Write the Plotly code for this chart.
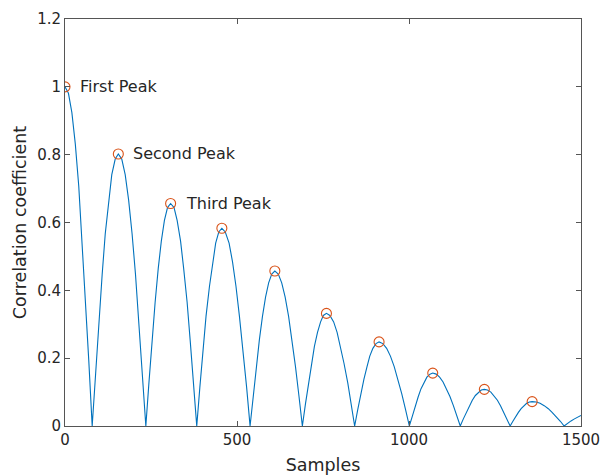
import plotly.graph_objects as go

# Autocorrelation magnitude versus lag (samples)
lag = [0, 10, 20, 30, 40, 49, 59, 69, 79,
       89, 98, 108, 117, 127, 136, 146, 155, 165, 175, 185, 195, 205, 215, 225, 235,
       244, 253, 262, 271, 280, 289, 298, 307, 317, 326, 336, 345, 355, 364, 374, 383,
       392, 401, 410, 420, 429, 438, 447, 456, 466, 477, 487, 497, 507, 518, 528, 538,
       547, 556, 565, 574, 583, 592, 601, 610, 620, 630, 640, 650, 660, 670, 680, 690,
       699, 708, 716, 725, 734, 743, 751, 760, 770, 781, 791, 801, 811, 822, 832, 842,
       851, 860, 869, 878, 886, 895, 904, 913, 924, 935, 946, 957, 968, 979, 990, 1001,
       1010, 1018, 1027, 1035, 1044, 1052, 1061, 1069, 1079, 1089, 1099, 1109, 1119, 1129, 1139, 1149,
       1158, 1167, 1175, 1184, 1193, 1202, 1210, 1219, 1228, 1238, 1247, 1257, 1266, 1275, 1285, 1294,
       1302, 1310, 1318, 1326, 1334, 1342, 1350, 1358, 1370, 1381, 1393, 1405, 1416, 1428, 1440, 1451,
       1461, 1471, 1481, 1491, 1500]

corr = [1.0, .981, .924, .831, .707, .556, .383, .195, 0,
        .156, .307, .446, .567, .666, .741, .787, .802, .787, .741, .666, .567, .446, .307, .156, 0,
        .128, .251, .365, .464, .545, .606, .644, .656, .644, .606, .545, .464, .365, .251, .128, 0,
        .114, .223, .324, .412, .484, .539, .572, .583, .572, .539, .484, .412, .324, .223, .114, 0,
        .089, .175, .254, .323, .380, .422, .448, .457, .448, .422, .380, .323, .254, .175, .089, 0,
        .065, .127, .185, .235, .276, .307, .326, .332, .326, .307, .276, .235, .185, .127, .065, 0,
        .048, .095, .138, .175, .206, .229, .243, .248, .243, .229, .206, .175, .138, .095, .048, 0,
        .030, .060, .087, .110, .130, .144, .153, .156, .153, .144, .130, .110, .087, .060, .030, 0,
        .021, .041, .060, .076, .090, .100, .106, .108, .106, .100, .090, .076, .060, .041, .021, 0,
        .014, .028, .040, .051, .060, .067, .071, .072, .071, .067, .060, .051, .040, .028, .014, 0,
        .008, .015, .021, .027, .031]

# Detected peaks
peak_lag = [0, 155, 307, 456, 610, 760, 913, 1069, 1219, 1358]
peak_val = [1.0, 0.802, 0.656, 0.583, 0.457, 0.332, 0.248, 0.156, 0.108, 0.072]
peak_names = ["First Peak", "Second Peak", "Third Peak"]

x_ticks = [0, 500, 1000, 1500]
y_ticks = [0, 0.2, 0.4, 0.6, 0.8, 1.0, 1.2]
y_tick_text = ["0", "0.2", "0.4", "0.6", "0.8", "1", "1.2"]

FONT = "DejaVu Sans"
AXIS_COLOR = "#555555"
TEXT_COLOR = "#262626"

fig = go.Figure()
fig.add_trace(go.Scatter(
    x=lag, y=corr, mode="lines",
    line=dict(color="#0072BD", width=1.1),
    hoverinfo="skip", showlegend=False,
))
fig.add_trace(go.Scatter(
    x=peak_lag, y=peak_val, mode="markers",
    marker=dict(symbol="circle-open", size=10, color="#D95319",
                line=dict(width=1.1, color="#D95319")),
    showlegend=False,
))

for name, px, py in zip(peak_names, peak_lag, peak_val):
    fig.add_annotation(
        x=px, y=py, text=name, showarrow=False,
        xanchor="left", yanchor="middle", xshift=13,
        font=dict(family=FONT, size=16, color=TEXT_COLOR),
    )

axis_common = dict(
    showline=True, linecolor=AXIS_COLOR, linewidth=1,
    mirror="allticks", ticks="inside", ticklen=5, tickcolor=AXIS_COLOR,
    showgrid=False, zeroline=False, automargin=False,
    tickfont=dict(family=FONT, size=15, color=TEXT_COLOR),
)

fig.update_xaxes(
    range=[0, 1500], tickvals=x_ticks,
    title=dict(text="Samples", font=dict(family=FONT, size=17.5, color=TEXT_COLOR), standoff=10),
    **axis_common,
)
fig.update_yaxes(
    range=[0, 1.2], tickvals=y_ticks, ticktext=y_tick_text,
    title=dict(text="Correlation coefficient", font=dict(family=FONT, size=17.5, color=TEXT_COLOR), standoff=6),
    **axis_common,
)

fig.update_layout(
    width=603, height=476,
    margin=dict(l=65, r=22, t=19, b=50),
    paper_bgcolor="white", plot_bgcolor="white",
)

fig.write_html("out.html")
